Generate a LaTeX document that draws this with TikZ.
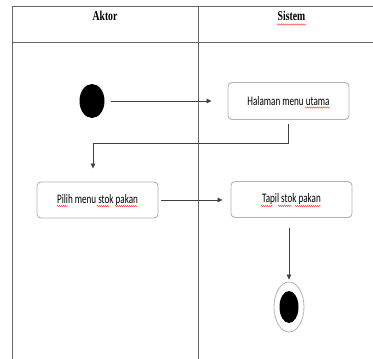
\documentclass[tikz,border=0pt]{standalone}
\usepackage{fontspec}
\setmainfont{Carlito}
\newfontfamily\headfont{Liberation Serif}
\usetikzlibrary{shapes.geometric,arrows.meta,decorations.pathmorphing}
\begin{document}
\begin{tikzpicture}[x=1pt,y=-1pt,
  frame/.style={draw=black!60,line width=0.8pt},
  actbox/.style={draw=black!30,line width=0.9pt,rounded corners=4pt,minimum width=121pt,minimum height=36pt,inner sep=0pt},
  acttext/.style={font=\fontsize{13}{15}\selectfont},
  head/.style={font=\headfont\bfseries\fontsize{13.5}{15}\selectfont},
  arr/.style={draw=black!75,line width=0.7pt,-{Triangle[length=5pt,width=4.5pt]}},
  spell/.style={draw=red!80,line width=0.4pt,decorate,decoration={snake,amplitude=0.6pt,segment length=2pt}}
]
\useasboundingbox (0,0) rectangle (373,359);
% swimlane frame
\draw[frame] (373,6) -- (12.5,6) -- (12.5,359);
\draw[frame] (198.5,6) -- (198.5,359);
\draw[frame] (12.5,42) -- (373,42);
\node[head] (aktor) at (105,16) {\scalebox{0.72}[1]{Aktor}};
\node[head] (sistem) at (291.5,16) {\scalebox{0.72}[1]{Sistem}};
% nodes
\node[ellipse,fill=black,minimum width=25pt,minimum height=34pt,inner sep=0pt] (start) at (92,101) {};
\node[actbox,acttext,minimum height=37pt] (halaman) at (288.5,101) {\scalebox{0.7}[1]{Halaman menu utama}};
\node[actbox,acttext] (pilih) at (97.5,200) {\scalebox{0.7}[1]{Pilih menu stok pakan}};
\node[actbox,acttext] (tapil) at (291.5,199.5) {\scalebox{0.7}[1]{Tapil stok pakan}};
\node[ellipse,draw=black!30,line width=0.8pt,minimum width=30pt,minimum height=50pt,inner sep=0pt] (end) at (289,307) {};
\node[ellipse,fill=black,minimum width=19pt,minimum height=32pt,inner sep=0pt] (endin) at (end.center) {};
% connectors
\draw[arr,shorten <=6pt,shorten >=16pt] (start) -- (halaman);
\draw[arr,shorten >=13pt] ([yshift=-4pt]halaman.south) -- ++(0,19) -| ([xshift=-4.5pt]pilih.north);
\draw[arr,shorten <=3pt,shorten >=8pt] (pilih.east) -- (pilih.east -| tapil.west);
\draw[arr,shorten <=10pt,shorten >=2pt] ([xshift=-2.5pt]tapil.south) -- (end.north);
% spell-check underlines
\draw[spell] (277,24.5) -- (306,24.5);
\draw[spell] (305,107.5) -- (330,107.5);
\draw[spell] (57,206) -- (68,206);
\draw[spell] (97,206) -- (110,206);
\draw[spell] (115,206) -- (138,206);
\draw[spell] (261,206) -- (273,206);
\draw[spell] (278,206) -- (292,206);
\draw[spell] (295,206) -- (321,206);
\end{tikzpicture}
\end{document}
